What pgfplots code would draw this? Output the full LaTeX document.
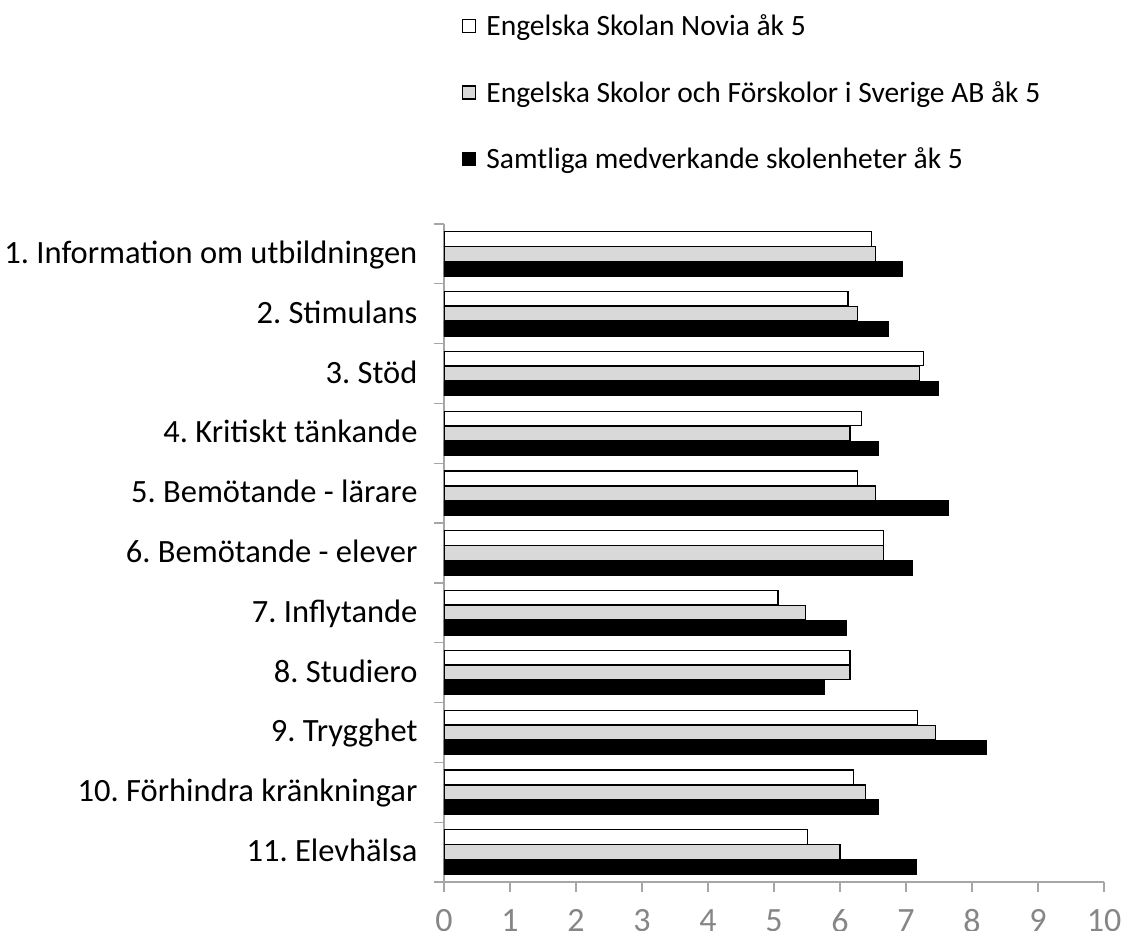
\documentclass[border=0pt]{standalone}
\usepackage{fontspec}
\setmainfont{Carlito}
\usepackage{pgfplots}
\pgfplotsset{compat=1.18}
\definecolor{axgray}{HTML}{A6A6A6}
\definecolor{tickgray}{HTML}{868686}
\definecolor{bargray}{HTML}{D9D9D9}
\frenchspacing
\begin{document}
\begin{tikzpicture}
\useasboundingbox (-444pt,-48pt) rectangle (677pt,882pt);
\begin{axis}[
  scale only axis, width=660pt, height=658pt,
  xmin=0, xmax=10, ymin=0.5, ymax=11.5,
  axis lines=left,
  axis line style={-, draw=axgray, line width=1.2pt},
  tick align=outside,
  major tick length=10pt,
  tick style={draw=axgray, line width=1.2pt},
  xtick={0,1,...,10},
  xticklabel style={font=\fontsize{34}{40}\selectfont, text=tickgray, yshift=-14pt},
  /pgf/number format/assume math mode=true,
  ytick={0.5,1.5,...,11.5},
  yticklabels={11. Elevhälsa, 10. Förhindra kränkningar, 9. Trygghet, 8. Studiero, 7. Inflytande, 6. Bemötande - elever, 5. Bemötande - lärare, 4. Kritiskt tänkande, 3. Stöd, 2. Stimulans, 1. Information om utbildningen, {}},
  yticklabel style={font=\fontsize{32.5}{38}\selectfont, anchor=base east, yshift=20.4pt, xshift=-13pt},
  legend style={at={(axis description cs:0.0273,1.321)}, anchor=north west, draw=none, fill=none, inner sep=0pt, font=\fontsize{29.5}{35}\selectfont, row sep=40pt,
    /tikz/every odd column/.append style={column sep=8pt}},
  legend cell align=left,
  legend image code/.code={\draw[#1, line width=1.2pt] (0pt,-6.5pt) rectangle (13pt,6.5pt);},
]
\addplot[xbar, bar width=14.5pt, bar shift=15pt, fill=white, draw=black, line width=1.2pt] coordinates {
(6.48,11) (6.12,10) (7.27,9) (6.33,8) (6.27,7) (6.66,6) (5.06,5) (6.15,4) (7.18,3) (6.21,2) (5.51,1)};
\addlegendentry{Engelska Skolan Novia åk 5}
\addplot[xbar, bar width=14.5pt, bar shift=0pt, fill=bargray, draw=black, line width=1.2pt] coordinates {
(6.54,11) (6.27,10) (7.21,9) (6.15,8) (6.54,7) (6.66,6) (5.48,5) (6.15,4) (7.45,3) (6.39,2) (6.00,1)};
\addlegendentry{Engelska Skolor och Förskolor i Sverige AB åk 5}
\addplot[xbar, bar width=14.5pt, bar shift=-15pt, fill=black, draw=black, line width=1.2pt] coordinates {
(6.95,11) (6.73,10) (7.49,9) (6.58,8) (7.64,7) (7.10,6) (6.10,5) (5.77,4) (8.22,3) (6.58,2) (7.16,1)};
\addlegendentry{Samtliga medverkande skolenheter åk 5}
\end{axis}
\end{tikzpicture}
\end{document}
